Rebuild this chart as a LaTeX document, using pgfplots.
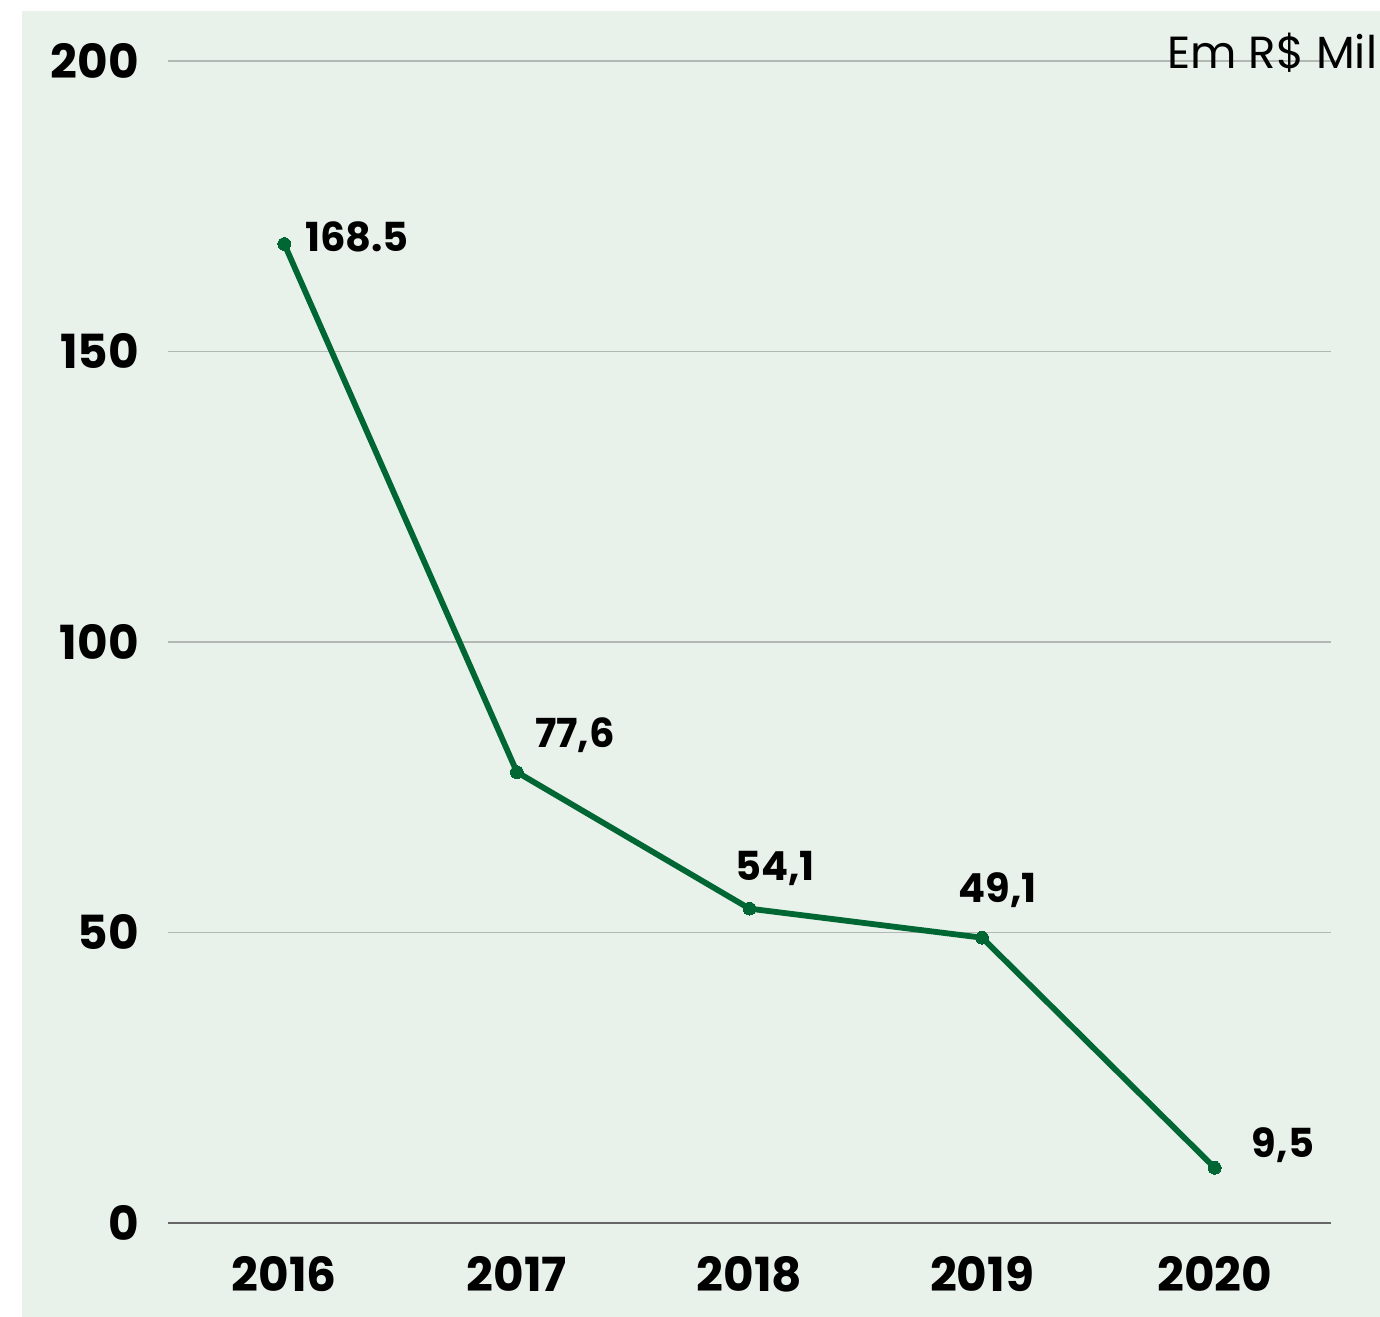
\documentclass[border=0pt]{standalone}
\usepackage{fontspec}
\setmainfont{Poppins}
\usepackage{pgfplots}
\pgfplotsset{compat=1.18}
\definecolor{bgc}{HTML}{E8F1EA}
\definecolor{linec}{HTML}{006633}
\definecolor{gridc}{HTML}{B4B8B4}
\definecolor{basec}{HTML}{666666}
\begin{document}
\begin{tikzpicture}
\begin{axis}[
  set layers,
  scale only axis,
  width=581.5pt, height=581pt,
  xmin=-0.5, xmax=4.5, ymin=0, ymax=200,
  clip=false,
  axis line style={draw=none},
  xtick={0,1,2,3,4},
  xticklabels={2016,2017,2018,2019,2020},
  ytick={0,50,100,150,200},
  major tick length=0pt,
  /pgf/number format/assume math mode=true,
  tick label style={font=\fontsize{23.5}{26}\selectfont\bfseries},
  yticklabel style={xshift=-11pt},
  xticklabel style={yshift=-13pt},
]
\begin{pgfonlayer}{axis background}
\fill[white] (axis cs:-1.2223,-16.18) rectangle (axis cs:4.7107,210.5);
\fill[bgc] (axis cs:-1.1277,-16.18) rectangle (axis cs:4.7107,208.6);
\draw[gridc, line width=0.9pt] (axis cs:-0.5,200) -- (axis cs:4.54,200);
\draw[gridc, line width=0.9pt] (axis cs:-0.5,150) -- (axis cs:4.5,150);
\draw[gridc, line width=0.9pt] (axis cs:-0.5,100) -- (axis cs:4.5,100);
\draw[gridc, line width=0.9pt] (axis cs:-0.5,50) -- (axis cs:4.5,50);
\draw[basec, line width=1.3pt] (axis cs:-0.5,0) -- (axis cs:4.5,0);
\end{pgfonlayer}
\addplot[linec, line width=2.9pt, mark=*, mark size=3.2pt, mark options={fill=linec, line width=0pt}]
  coordinates {(0,168.5) (1,77.6) (2,54.1) (3,49.1) (4,9.5)};
\begin{scope}[font=\fontsize{20}{22}\selectfont\bfseries]
\node at (axis cs:0.3126,169.7) {168.5};
\node at (axis cs:1.2498,84.0) {77,6};
\node at (axis cs:2.1097,61.1) {54,1};
\node at (axis cs:3.068,57.3) {49,1};
\node at (axis cs:4.2937,13.4) {9,5};
\end{scope}
\node[font=\fontsize{22.5}{24}\selectfont, inner sep=0pt, anchor=east] at (axis cs:4.700,201.5) {Em R\$ Mil};
\end{axis}
\end{tikzpicture}
\end{document}
